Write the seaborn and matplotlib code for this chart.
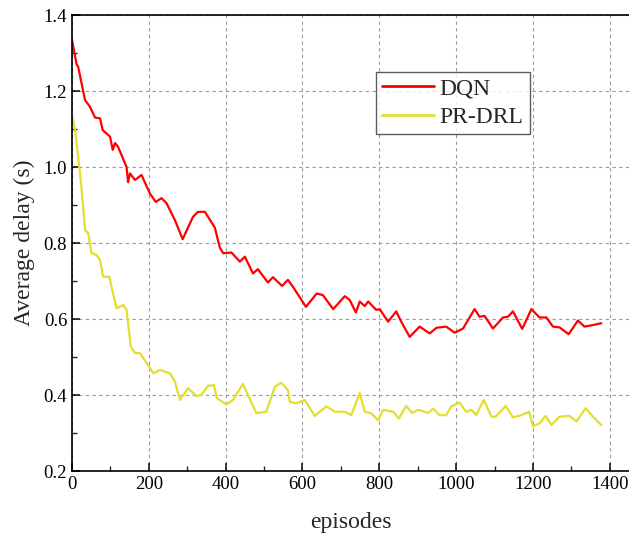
import pandas as pd
import seaborn as sns
import matplotlib.pyplot as plt
from matplotlib.ticker import MultipleLocator

# ==================================================
# 1. data
# ==================================================

dqn_x = [0, 12, 16, 34, 47, 60, 73, 80, 99, 106, 112, 120, 142, 146, 151, 164, 181,
         203, 218, 233, 246, 268, 288, 315, 328, 346, 372, 385, 394, 415, 437, 450,
         471, 484, 510, 523, 547, 562, 575, 609, 637, 653, 680, 710, 723, 739, 749,
         762, 771, 792, 801, 823, 844, 857, 879, 905, 931, 949, 974, 996, 1018, 1048,
         1061, 1074, 1096, 1122, 1135, 1148, 1172, 1196, 1217, 1235, 1252, 1269, 1293,
         1317, 1334, 1356, 1378]
dqn_y = [1.334, 1.27, 1.264, 1.176, 1.158, 1.13, 1.128, 1.097, 1.08, 1.045, 1.063, 1.053,
         1.0, 0.96, 0.983, 0.966, 0.979, 0.93, 0.908, 0.918, 0.905, 0.86, 0.81, 0.869,
         0.882, 0.882, 0.84, 0.787, 0.773, 0.775, 0.751, 0.764, 0.72, 0.731, 0.696,
         0.71, 0.687, 0.703, 0.685, 0.632, 0.667, 0.663, 0.626, 0.66, 0.65, 0.617,
         0.646, 0.634, 0.646, 0.624, 0.626, 0.593, 0.62, 0.593, 0.553, 0.58, 0.562,
         0.577, 0.58, 0.564, 0.575, 0.626, 0.606, 0.608, 0.575, 0.604, 0.606, 0.62,
         0.574, 0.626, 0.604, 0.604, 0.58, 0.578, 0.56, 0.596, 0.58, 0.584, 0.589]

prdrl_x = [0, 8, 21, 29, 34, 42, 51, 64, 73, 81, 97, 116, 133, 142, 153, 164, 177, 212,
           229, 255, 268, 281, 302, 324, 337, 354, 369, 378, 402, 419, 445, 480, 506,
           528, 545, 562, 567, 584, 606, 632, 662, 684, 710, 727, 749, 762, 779, 797,
           810, 836, 851, 870, 885, 901, 927, 940, 957, 974, 987, 1009, 1026, 1040,
           1052, 1072, 1092, 1103, 1129, 1148, 1170, 1190, 1200, 1217, 1233, 1248,
           1269, 1295, 1313, 1337, 1356, 1378]
prdrl_y = [1.135, 1.097, 0.983, 0.896, 0.834, 0.826, 0.773, 0.768, 0.755, 0.711, 0.711,
           0.628, 0.637, 0.624, 0.527, 0.511, 0.51, 0.457, 0.466, 0.457, 0.435, 0.387,
           0.418, 0.397, 0.4, 0.424, 0.426, 0.391, 0.375, 0.387, 0.429, 0.352, 0.356,
           0.422, 0.432, 0.413, 0.382, 0.378, 0.387, 0.345, 0.37, 0.356, 0.356, 0.347,
           0.405, 0.356, 0.352, 0.333, 0.361, 0.356, 0.338, 0.371, 0.353, 0.361, 0.353,
           0.364, 0.347, 0.347, 0.37, 0.38, 0.356, 0.361, 0.347, 0.387, 0.343, 0.343,
           0.371, 0.341, 0.347, 0.356, 0.318, 0.325, 0.345, 0.321, 0.343, 0.345, 0.33,
           0.365, 0.343, 0.321]

series_names = ["DQN", "PR-DRL"]
colors = ["#FF0000", "#E4DE30"]

df = pd.concat([
    pd.DataFrame({"episodes": dqn_x, "delay": dqn_y, "method": series_names[0]}),
    pd.DataFrame({"episodes": prdrl_x, "delay": prdrl_y, "method": series_names[1]}),
])

# ==================================================
# 2. style
# ==================================================

sns.set_theme(style="ticks")
plt.rcParams["font.family"] = ["Liberation Serif", "DejaVu Serif"]

fig = plt.figure(figsize=(6.29, 5.37), dpi=100)
ax = fig.add_axes([72 / 629, 1 - 471 / 537, 1 - 72 / 629, (471 - 15) / 537])

sns.lineplot(
    data=df,
    x="episodes",
    y="delay",
    hue="method",
    palette=colors,
    linewidth=1.6,
    estimator=None,
    sort=False,
    ax=ax,
)

ax.set_xlim(0, 1450)
ax.set_ylim(0.2, 1.4)
ax.xaxis.set_major_locator(MultipleLocator(200))
ax.xaxis.set_minor_locator(MultipleLocator(100))
ax.yaxis.set_major_locator(MultipleLocator(0.2))
ax.yaxis.set_minor_locator(MultipleLocator(0.1))
ax.yaxis.set_major_formatter(lambda v, p: f"{v:.1f}")

ax.tick_params(which="major", direction="in", length=6, width=1.1,
               labelsize=13.5, colors="black")
ax.tick_params(which="minor", direction="in", length=3.5, width=1.0)

ax.grid(which="major", linestyle=(0, (3, 3)), color="#9a9a9a", linewidth=0.8)

for s in ["left", "bottom", "top"]:
    ax.spines[s].set_linewidth(1.2)
    ax.spines[s].set_color("black")
ax.spines["right"].set_visible(False)

ax.set_xlabel("episodes", fontsize=17, labelpad=14)
ax.set_ylabel("Average delay (s)", fontsize=17, labelpad=6)

# legend box
leg = ax.legend(
    loc="upper left",
    bbox_to_anchor=((376 - 72) / 557, 1 - (72 - 15) / 456),
    fontsize=17,
    frameon=True,
    fancybox=False,
    edgecolor="#333333",
    handlelength=2.2,
    handletextpad=0.25,
    borderpad=0.25,
    borderaxespad=0,
    labelspacing=0.3,
)
leg.get_frame().set_linewidth(1.0)
for line in leg.get_lines():
    line.set_linewidth(2.0)

plt.savefig("out.png", dpi=100)
plt.close()
